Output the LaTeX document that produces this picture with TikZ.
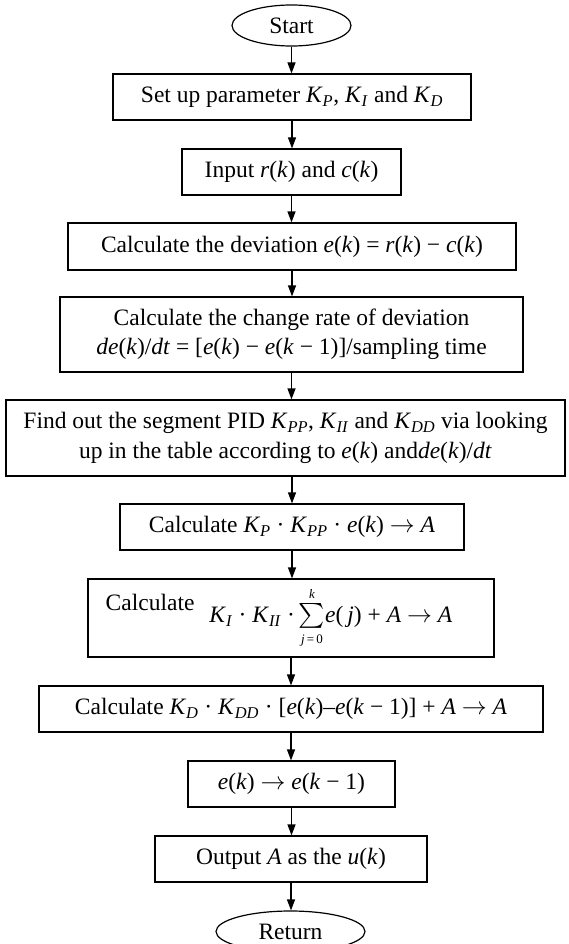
\documentclass[tikz,border=0pt]{standalone}
\usepackage{exscale}
\usepackage{fontspec}
\setmainfont{Liberation Serif}
\usetikzlibrary{shapes.geometric,arrows.meta}

\newcommand{\gain}[1]{\textit{K}\textsubscript{\textit{#1}}}
\newcommand{\sig}[1]{\textit{#1}(\textit{k})}
\newcommand{\into}{$\rightarrow$}

\begin{document}
\begin{tikzpicture}[x=1pt,y=-1pt]
        \tikzset{proc/.style={draw=black, line width=1.2pt, inner sep=0pt,
                minimum height=46pt, align=center,
                font=\fontsize{23.5}{29.5}\selectfont},
            term/.style={proc, ellipse, minimum width=119pt, minimum height=41pt},
            flow/.style={line width=1.2pt, -{Triangle[length=11pt,width=8pt]}}}

        \useasboundingbox (0,0) rectangle (568,944);

        \node[term] (start) at (291.5,25.5) {Start};
        \node[proc, minimum width=358pt] (param) at (292,97)
            {Set up parameter \gain{P}, \gain{I} and \gain{D}};
        \node[proc, minimum width=219pt] (input) at (291.5,172)
            {Input \sig{r} and \sig{c}};
        \node[proc, minimum width=448pt, minimum height=47pt] (dev) at (292,246.5)
            {Calculate the deviation \sig{e} = \sig{r} − \sig{c}};
        \node[proc, minimum width=463pt, minimum height=75pt] (rate) at (291.5,334.5)
            {Calculate the change rate of deviation\\
             \textit{de}(\textit{k})/\textit{dt} = [\sig{e} − \textit{e}(\textit{k} − 1)]/sampling time};
        \node[proc, minimum width=559pt, minimum height=76pt] (table) at (285.5,438)
            {Find out the segment PID \gain{PP}, \gain{II} and \gain{DD} via looking\\
             up in the table according to \sig{e} and\textit{de}(\textit{k})/\textit{dt}};
        \node[proc, minimum width=344pt] (pterm) at (292,527)
            {Calculate \gain{P} · \gain{PP} · \sig{e} \into{} \textit{A}};
        \node[proc, minimum width=406pt, minimum height=78pt] (iterm) at (291,618)
            {\raisebox{12pt}{Calculate}\hspace{15pt}\gain{I} · \gain{II} ·%
             $\,\textstyle\sum\limits^{\hbox{\fontsize{13}{13}\selectfont\textit{k}}}%
             _{\hbox{\fontsize{13}{13}\selectfont\textit{j}\,=\,0}}$%
             \textit{e}(\,\textit{j}) + \textit{A} \into{} \textit{A}\hspace*{24pt}};
        \node[proc, minimum width=504pt] (dterm) at (291,709)
            {Calculate \gain{D} · \gain{DD} · [\sig{e}–\textit{e}(\textit{k} − 1)] + \textit{A} \into{} \textit{A}};
        \node[proc, minimum width=207pt] (shift) at (291.5,784)
            {\sig{e} \into{} \textit{e}(\textit{k} − 1)};
        \node[proc, minimum width=272pt] (output) at (291,859)
            {Output \textit{A} as the \sig{u}};
        \node[term, minimum width=149pt] (return) at (290.5,931.5) {Return};

        % straight arrows down the column
        \draw[flow] (start.south) -- (start.south |- param.north);
        \draw[flow] (param.south) -- (param.south |- input.north);
        \draw[flow] (input.south) -- (input.south |- dev.north);
        \draw[flow] (dev.south) -- (dev.south |- rate.north);
        \draw[flow] (rate.south) -- (rate.south |- table.north);
        \draw[flow] (table.south -| pterm.south) -- (pterm.north);
        \draw[flow] (pterm.south) -- (pterm.south |- iterm.north);
        \draw[flow] (iterm.south) -- (iterm.south |- dterm.north);
        \draw[flow] (dterm.south) -- (dterm.south |- shift.north);
        \draw[flow] (shift.south) -- (shift.south |- output.north);
        \draw[flow] (output.south) -- (output.south |- return.north);
    \end{tikzpicture}
\end{document}
